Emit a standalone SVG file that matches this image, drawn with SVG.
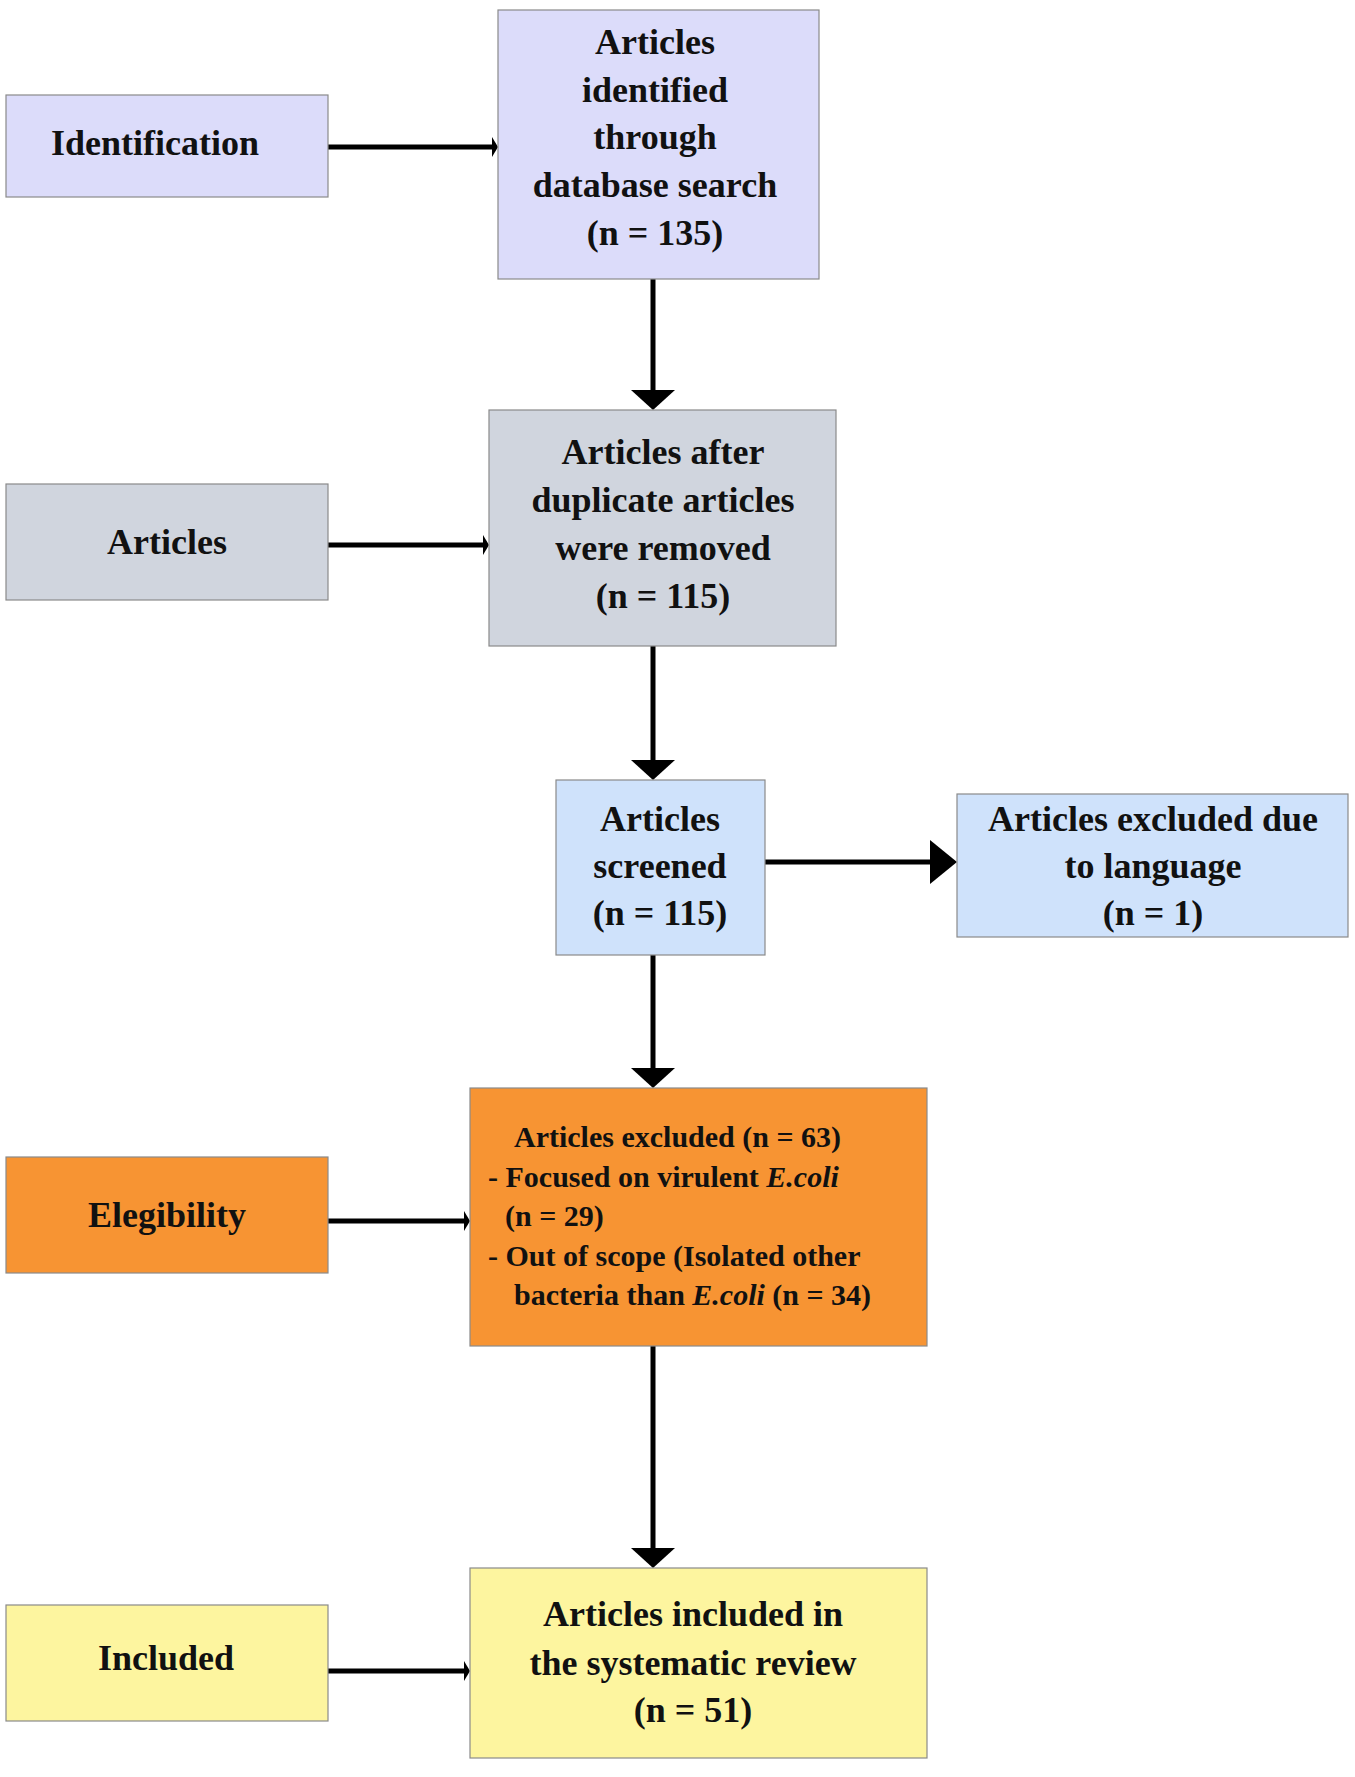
<svg xmlns="http://www.w3.org/2000/svg" width="1355" height="1777" viewBox="0 0 1355 1777">
<style>
rect{stroke:#8a8a8a;stroke-width:1.2}
text{font-family:"Liberation Serif","Times New Roman",serif;font-weight:bold;font-size:36px;fill:#111;text-anchor:middle}
.s{font-size:30px;text-anchor:start}
.c line{stroke:#000;stroke-width:5}
.c polygon{fill:#000}
</style>
<rect width="1355" height="1777" fill="#fff" style="stroke:none"/>
<g class="c" id="connectors">
<line x1="328" y1="147" x2="496" y2="147"/><polygon points="492,137 498,147 492,157"/>
<line x1="653" y1="279" x2="653" y2="392"/><polygon points="631,390 675,390 653,410"/>
<line x1="328" y1="545" x2="487" y2="545"/><polygon points="483,535 489,545 483,555"/>
<line x1="653" y1="646" x2="653" y2="762"/><polygon points="631,760 675,760 653,780"/>
<line x1="765" y1="862" x2="932" y2="862"/><polygon points="930,840 957,862 930,884"/>
<line x1="653" y1="955" x2="653" y2="1070"/><polygon points="631,1068 675,1068 653,1088"/>
<line x1="328" y1="1221" x2="468" y2="1221"/><polygon points="464,1211 470,1221 464,1231"/>
<line x1="653" y1="1346" x2="653" y2="1550"/><polygon points="631,1548 675,1548 653,1568"/>
<line x1="328" y1="1671" x2="468" y2="1671"/><polygon points="464,1661 470,1671 464,1681"/>
</g>
<g id="identification"><rect x="6" y="95" width="322" height="102" fill="#dcdcfa"/><text x="155" y="155">Identification</text></g>
<g id="identified"><rect x="498" y="10" width="321" height="269" fill="#dcdcfa"/>
<text x="655" y="54">Articles</text><text x="655" y="102">identified</text><text x="655" y="149">through</text><text x="655" y="197">database search</text><text x="655" y="245">(n = 135)</text></g>
<g id="articles"><rect x="6" y="484" width="322" height="116" fill="#d0d5de"/><text x="167" y="554">Articles</text></g>
<g id="deduplicated"><rect x="489" y="410" width="347" height="236" fill="#d0d5de"/>
<text x="663" y="464">Articles after</text><text x="663" y="512">duplicate articles</text><text x="663" y="560">were removed</text><text x="663" y="608">(n = 115)</text></g>
<g id="screened"><rect x="556" y="780" width="209" height="175" fill="#cfe2fb"/>
<text x="660" y="831">Articles</text><text x="660" y="878">screened</text><text x="660" y="925">(n = 115)</text></g>
<g id="language"><rect x="957" y="794" width="391" height="143" fill="#cfe2fb"/>
<text x="1153" y="831">Articles excluded due</text><text x="1153" y="878">to language</text><text x="1153" y="925">(n = 1)</text></g>
<g id="elegibility"><rect x="6" y="1157" width="322" height="116" fill="#f79433"/><text x="167" y="1227">Elegibility</text></g>
<g id="excluded"><rect x="470" y="1088" width="457" height="258" fill="#f79433"/>
<text class="s" x="514" y="1147">Articles excluded (n = 63)</text>
<text class="s" x="488" y="1187">- Focused on virulent <tspan font-style="italic">E.coli</tspan></text>
<text class="s" x="505" y="1226">(n = 29)</text>
<text class="s" x="488" y="1266">- Out of scope (Isolated other</text>
<text class="s" x="514" y="1305">bacteria than <tspan font-style="italic">E.coli</tspan> (n = 34)</text></g>
<g id="included-label"><rect x="6" y="1605" width="322" height="116" fill="#fdf59f"/><text x="166" y="1670">Included</text></g>
<g id="included"><rect x="470" y="1568" width="457" height="190" fill="#fdf59f"/>
<text x="693" y="1626">Articles included in</text><text x="693" y="1675">the systematic review</text><text x="693" y="1722">(n = 51)</text></g>
</svg>
